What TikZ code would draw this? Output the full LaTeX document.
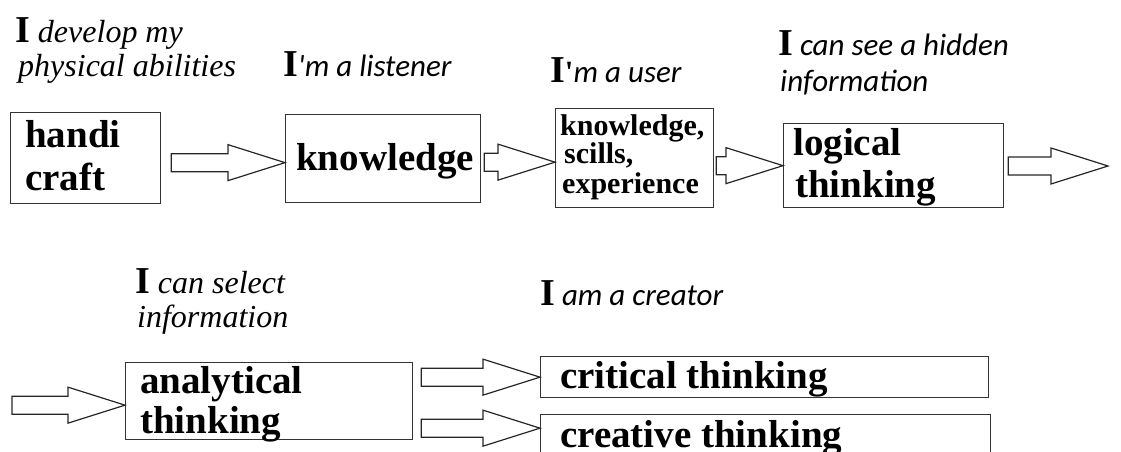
\documentclass[tikz,border=0pt]{standalone}
\usepackage{fontspec}
\setmainfont{Liberation Serif}
\newfontfamily\capsans{Carlito}
\usetikzlibrary{positioning, calc}
\tikzset{
    box/.style={rectangle, draw=black!80, line width=1.3pt, inner sep=0pt, anchor=north west},
    boxtext/.style={anchor=base west, inner sep=0pt, font=\fontsize{39}{44}\selectfont\bfseries},
    smalltext/.style={anchor=base west, inner sep=0pt, font=\fontsize{30}{30}\selectfont\bfseries},
    captext/.style={anchor=base west, inner sep=0pt, font=\fontsize{32}{34}\selectfont\itshape},
    capsanstext/.style={anchor=base west, inner sep=0pt, font=\fontsize{31}{34}\selectfont\capsans\itshape},
    barrow/.style={draw=black!85, line width=1.2pt, line join=miter},
}
\newcommand{\bigI}{{\fontsize{38}{38}\selectfont\rmfamily\bfseries\upshape I}}
% block arrow: tail x from #1, tip at #2
\newcommand{\blockarrow}[2]{%
    \draw[barrow] let \p1=(#1), \p2=(#2) in
        (\x1,\y2+9) -- (\x2-57,\y2+9) -- (\x2-57,\y2+18) -- (\x2,\y2)
        -- (\x2-57,\y2-18) -- (\x2-57,\y2-9) -- (\x1,\y2-9) -- cycle;}
\begin{document}
\begin{tikzpicture}[x=1pt, y=-1pt]
            \useasboundingbox (0,0) rectangle (1121,452);
            % top row
            \node [box, minimum width=150, minimum height=91] (craft) at (10,112) {};
            \node [box, minimum width=195, minimum height=88] (know) at (285,114) {};
            \node [box, minimum width=158, minimum height=99] (user) at (555,108) {};
            \node [box, minimum width=220, minimum height=84] (logic) at (783,123) {};
            \node [boxtext] (craft1) at (25,147) {handi};
            \node [boxtext] (craft2) at (25,190) {craft};
            \node [boxtext] (know1) at (296,170) {knowledge};
            \node [smalltext] (user1) at (560,135) {knowledge,};
            \node [smalltext] (user2) at (564,163) {scills,};
            \node [smalltext] (user3) at (562,193) {experience};
            \node [boxtext] (logic1) at (793,155) {logical};
            \node [boxtext] (logic2) at (795,197) {thinking};
            \node [captext] (devel) at (15,43) {\bigI\ develop my};
            \node [captext] (phys) at (18,77) {physical abilities};
            \node [capsanstext] (listen) at (283,77) {\bigI{}\textquotesingle m a listener};
            \node [capsanstext] (usecap) at (550,82) {\bigI{\rmfamily\bfseries\upshape\textquotesingle}m a user};
            \node [capsanstext] (hidden) at (778,56) {\bigI\ can see a hidden};
            \node [capsanstext] (hidinfo) at (780,92) {information};
            % bottom row
            \node [box, minimum width=287, minimum height=77] (ana) at (125,362) {};
            \node [box, minimum width=448, minimum height=41] (crit) at (540,356) {};
            \node [box, minimum width=450, minimum height=45] (crea) at (540,414) {};
            \node [boxtext] (ana1) at (140,393) {analytical};
            \node [boxtext] (ana2) at (140,433) {thinking};
            \node [boxtext] (crit1) at (560,388) {critical thinking};
            \node [boxtext] (crea1) at (560,447) {creative thinking};
            \node [captext] (select) at (135,293) {\bigI\ can select};
            \node [captext] (selinfo) at (137,327) {information};
            \node [capsanstext] (creator) at (540,305) {\bigI\ am a creator};
            \coordinate (intail) at (12,405);
            \coordinate (outtip) at (1108,166);
            \blockarrow{$(craft.east)+(10,0)$}{$(know.west)+(0,4)$}
            \blockarrow{$(know.east)+(3,0)$}{$(user.west)+(0,4)$}
            \blockarrow{$(user.east)+(2,0)$}{logic.west}
            \blockarrow{$(logic.east)+(4,0)$}{outtip}
            \blockarrow{intail}{$(ana.west)+(0,4)$}
            \blockarrow{$(ana.east)+(8,0)$}{crit.west}
            \blockarrow{$(ana.east)+(8,0)$}{$(crea.west)+(0,-9)$}
        \end{tikzpicture}
\end{document}
